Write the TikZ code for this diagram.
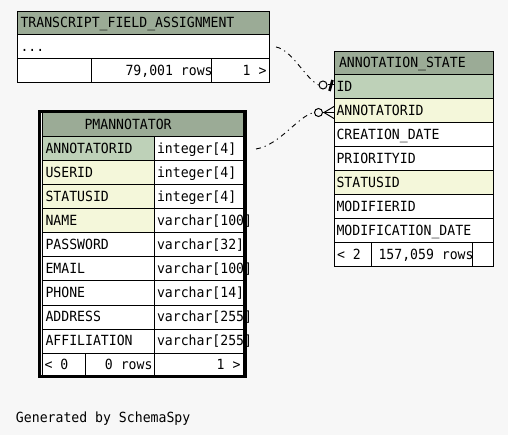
\documentclass[tikz,border=0pt]{standalone}
\usepackage{fontspec}
\newfontfamily\schfont[FakeStretch=0.94]{DejaVu Sans Mono}
\definecolor{bgc}{HTML}{F7F7F7}
\definecolor{hdr}{HTML}{9BAB96}
\definecolor{pkc}{HTML}{BED1B8}
\definecolor{fkc}{HTML}{F4F7DA}
\tikzset{
  cellbox/.style={draw=black, line width=1pt, inner sep=0pt, outer sep=0pt, anchor=north west},
  txt/.style={inner sep=0pt, outer sep=0pt, font=\schfont\fontsize{14}{15}\selectfont, text=black},
  rel/.style={line width=0.9pt, dash pattern=on 5pt off 4pt on 1.2pt off 4pt},
  ocirc/.style={circle, draw=black, line width=1pt, fill=bgc, minimum size=8pt, inner sep=0pt},
  thickframe/.style={draw=black, line width=3.6pt},
}
\newcommand\tcell[6]{\node[cellbox, fill=#6, minimum width={(#4-(#2))*1pt}, minimum height={(#5-(#3))*1pt}] (#1) at (#2,#3) {};}
\newcommand\ltext[4]{\node[txt, anchor=base west] (#1) at (#2,#3) {#4};}
\newcommand\rtext[4]{\node[txt, anchor=base east] (#1) at (#2,#3) {#4};}
\begin{document}
\begin{tikzpicture}[x=1pt,y=-1pt]
\fill[bgc] (0,0) rectangle (508,435);
\useasboundingbox (0,0) rectangle (508,435);

% ---------- TRANSCRIPT_FIELD_ASSIGNMENT ----------
\tcell{tfa-h}{17}{12}{269}{35}{hdr}
\ltext{tfa-ht}{20.5}{28}{TRANSCRIPT\_FIELD\_ASSIGNMENT}
\tcell{tfa-r1}{17}{35}{269}{59}{white}
\ltext{tfa-r1t}{20.5}{51.5}{...}
\tcell{tfa-f1}{17}{59}{91}{83}{white}
\tcell{tfa-f2}{91}{59}{211}{83}{white}
\ltext{tfa-f2t}{125.5}{75.5}{79,001 rows}
\tcell{tfa-f3}{211}{59}{269}{83}{white}
\rtext{tfa-f3t}{266.5}{75.5}{1 >}

% ---------- ANNOTATION_STATE ----------
\tcell{as-h}{334}{52}{493}{75}{hdr}
\ltext{as-ht}{339}{68}{ANNOTATION\_STATE}
\tcell{as-id}{334}{75}{493}{99}{pkc}
\ltext{as-idt}{336.5}{91.5}{ID}
\tcell{as-ann}{334}{99}{493}{123}{fkc}
\ltext{as-annt}{336.5}{115.5}{ANNOTATORID}
\tcell{as-cd}{334}{123}{493}{147}{white}
\ltext{as-cdt}{336.5}{139.5}{CREATION\_DATE}
\tcell{as-pr}{334}{147}{493}{171}{white}
\ltext{as-prt}{336.5}{163.5}{PRIORITYID}
\tcell{as-st}{334}{171}{493}{195}{fkc}
\ltext{as-stt}{336.5}{187.5}{STATUSID}
\tcell{as-mo}{334}{195}{493}{219}{white}
\ltext{as-mot}{336.5}{211.5}{MODIFIERID}
\tcell{as-md}{334}{219}{493}{243}{white}
\ltext{as-mdt}{336.5}{235.5}{MODIFICATION\_DATE}
\tcell{as-f1}{334}{243}{371}{267}{white}
\ltext{as-f1t}{337}{259.5}{< 2}
\tcell{as-f2}{371}{243}{472}{267}{white}
\ltext{as-f2t}{378.5}{259.5}{157,059 rows}
\tcell{as-f3}{472}{243}{493}{267}{white}

% ---------- PMANNOTATOR ----------
\tcell{pm-h}{42}{113}{243}{137}{hdr}
\ltext{pm-ht}{84.5}{129.5}{PMANNOTATOR}
\tcell{pm-r1n}{42}{137}{154}{161}{pkc}
\ltext{pm-r1nt}{45.5}{153.5}{ANNOTATORID}
\tcell{pm-r1t}{154}{137}{243}{161}{white}
\ltext{pm-r1tt}{157}{153.5}{integer[4]}
\tcell{pm-r2n}{42}{161}{154}{185}{fkc}
\ltext{pm-r2nt}{45.5}{177.5}{USERID}
\tcell{pm-r2t}{154}{161}{243}{185}{white}
\ltext{pm-r2tt}{157}{177.5}{integer[4]}
\tcell{pm-r3n}{42}{185}{154}{209}{fkc}
\ltext{pm-r3nt}{45.5}{201.5}{STATUSID}
\tcell{pm-r3t}{154}{185}{243}{209}{white}
\ltext{pm-r3tt}{157}{201.5}{integer[4]}
\tcell{pm-r4n}{42}{209}{154}{233}{fkc}
\ltext{pm-r4nt}{45.5}{225.5}{NAME}
\tcell{pm-r4t}{154}{209}{243}{233}{white}
\ltext{pm-r4tt}{157}{225.5}{varchar[100]}
\tcell{pm-r5n}{42}{233}{154}{257}{white}
\ltext{pm-r5nt}{45.5}{249.5}{PASSWORD}
\tcell{pm-r5t}{154}{233}{243}{257}{white}
\ltext{pm-r5tt}{157}{249.5}{varchar[32]}
\tcell{pm-r6n}{42}{257}{154}{281}{white}
\ltext{pm-r6nt}{45.5}{273.5}{EMAIL}
\tcell{pm-r6t}{154}{257}{243}{281}{white}
\ltext{pm-r6tt}{157}{273.5}{varchar[100]}
\tcell{pm-r7n}{42}{281}{154}{305}{white}
\ltext{pm-r7nt}{45.5}{297.5}{PHONE}
\tcell{pm-r7t}{154}{281}{243}{305}{white}
\ltext{pm-r7tt}{157}{297.5}{varchar[14]}
\tcell{pm-r8n}{42}{305}{154}{329}{white}
\ltext{pm-r8nt}{45.5}{321.5}{ADDRESS}
\tcell{pm-r8t}{154}{305}{243}{329}{white}
\ltext{pm-r8tt}{157}{321.5}{varchar[255]}
\tcell{pm-r9n}{42}{329}{154}{353}{white}
\ltext{pm-r9nt}{45.5}{345.5}{AFFILIATION}
\tcell{pm-r9t}{154}{329}{243}{353}{white}
\ltext{pm-r9tt}{157}{345.5}{varchar[255]}
\tcell{pm-f1}{42}{353}{85}{377}{white}
\ltext{pm-f1t}{44.5}{369.5}{< 0}
\tcell{pm-f2}{85}{353}{154}{377}{white}
\rtext{pm-f2t}{152.5}{369.5}{0 rows}
\tcell{pm-f3}{154}{353}{243}{377}{white}
\rtext{pm-f3t}{240.5}{369.5}{1 >}
\node[thickframe, inner sep=0pt, outer sep=0pt, anchor=north west,
      minimum width=205.3pt, minimum height=265pt] (pm-frame) at (39.5,111.5) {};

% ---------- connectors ----------
\coordinate (c1s) at ([xshift=7pt]tfa-r1.east);
\node[ocirc] (o1) at (323,85) {};
\draw[rel] (c1s) .. controls (292,50) and (305,78) .. (o1.west);
\draw[line width=1pt] (o1.east) -- (o1.east -| as-id.west);
\draw[line width=2.6pt] ([xshift=-1.5pt,yshift=5pt]o1.east -| as-id.west) -- ([xshift=-4.5pt,yshift=-6pt]o1.east -| as-id.west);

\coordinate (c2s) at ([xshift=13pt]pm-r1t.east);
\node[ocirc] (o2) at (318.5,112.5) {};
\draw[rel] (c2s) .. controls (280,145) and (298,116) .. (o2.west);
\draw[line width=1pt] (o2.east) -- (o2.east -| as-ann.west);
\coordinate (cf) at ([xshift=-10pt]o2.east -| as-ann.west);
\draw[line width=1pt] ([yshift=6pt]o2.east -| as-ann.west) -- (cf) -- ([yshift=-6pt]o2.east -| as-ann.west);

% ---------- footer ----------
\ltext{gen}{16}{422}{Generated by SchemaSpy}
\end{tikzpicture}
\end{document}
